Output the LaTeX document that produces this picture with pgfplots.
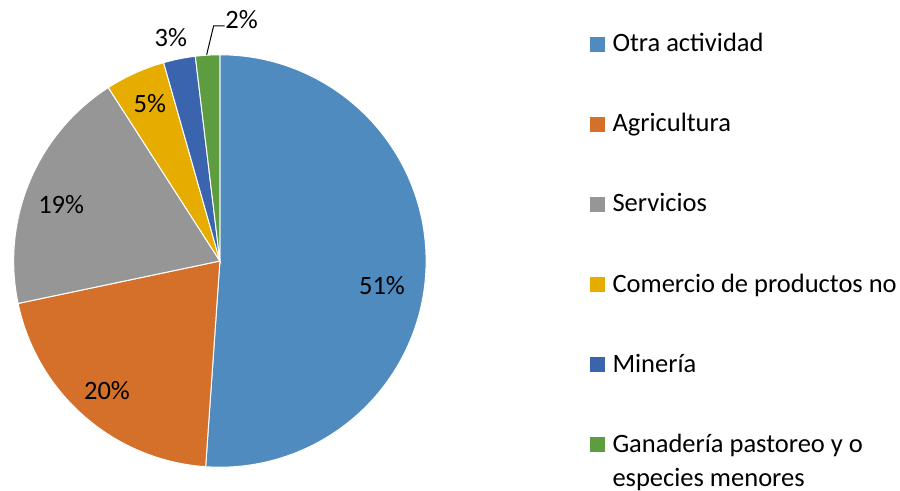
\documentclass[border=0pt]{standalone}
\usepackage{fontspec}
\setmainfont{Carlito}
\usepackage{pgfplots}
\usepackage{pgfplotstable}
\pgfplotsset{compat=1.18}
\definecolor{c1}{HTML}{4F8BBF}
\definecolor{c2}{HTML}{D5702B}
\definecolor{c3}{HTML}{969696}
\definecolor{c4}{HTML}{E6AC00}
\definecolor{c5}{HTML}{3B64AE}
\definecolor{c6}{HTML}{5E9C40}
% values (percent), colour, label position (pixel coords), rounded label
\pgfplotstableread[col sep=comma]{
name,value,col,lx,ly,lab
Otra actividad,51.1,c1,380,287,51
Agricultura,20.6,c2,104,392,20
Servicios,19.2,c3,58,205,19
Comercio de productos no,4.7,c4,147,104,5
Minería,2.5,c5,168,38,3
Ganadería pastoreo y o,1.9,c6,239,20,2
}\piedata
\newcommand\chartfont{\fontsize{13.3}{16}\selectfont}
\begin{document}
\begin{tikzpicture}
\begin{axis}[
  scale only axis, width=450pt, height=245.5pt,
  xmin=0, xmax=900, ymin=0, ymax=491,
  hide axis, clip=false,
]
\path (axis cs:0,0) rectangle (axis cs:900,491);
\gdef\pieCum{0}
\pgfplotsinvokeforeach{0,...,5}{
  \pgfplotstablegetelem{#1}{value}\of\piedata \let\pieV\pgfplotsretval
  \pgfplotstablegetelem{#1}{col}\of\piedata \let\pieC\pgfplotsretval
  \pgfplotstablegetelem{#1}{name}\of\piedata \let\pieN\pgfplotsretval
  \pgfplotstablegetelem{#1}{lx}\of\piedata \let\pieLX\pgfplotsretval
  \pgfplotstablegetelem{#1}{ly}\of\piedata \let\pieLYp\pgfplotsretval
  \pgfplotstablegetelem{#1}{lab}\of\piedata \let\pieLab\pgfplotsretval
  \pgfmathsetmacro\angA{90-3.6*\pieCum}
  \pgfmathsetmacro\angB{90-3.6*(\pieCum+\pieV)}
  \pgfmathsetmacro\newCum{\pieCum+\pieV}
  \xdef\pieCum{\newCum}
  \pgfmathsetmacro\pieLY{491-\pieLYp}
  \pgfmathsetmacro\legB{491-(52+80.4*#1)}
  \pgfmathsetmacro\legT{\legB+15}
  \edef\temp{%
    \noexpand\fill[\pieC, draw=white, line width=0.5pt] (axis cs:217.3,229) -- ++(\angA:103.5pt) arc[start angle=\angA, end angle=\angB, radius=103.5pt] -- cycle;
    \noexpand\node[font=\noexpand\chartfont] at (axis cs:\pieLX,\pieLY) {\pieLab\noexpand\%};
    \noexpand\fill[\pieC] (axis cs:589,\legB) rectangle (axis cs:604,\legT);
    \noexpand\node[anchor=base west, inner sep=0pt, font=\noexpand\chartfont] at (axis cs:611,\legB) {\pieN};
  }%
  \temp
}
\node[anchor=base west, inner sep=0pt, font=\chartfont] at (axis cs:611,3) {especies menores};
\draw[black, line width=0.5pt] (axis cs:204,436) -- (axis cs:211,465) -- (axis cs:222,465);
\end{axis}
\end{tikzpicture}
\end{document}
